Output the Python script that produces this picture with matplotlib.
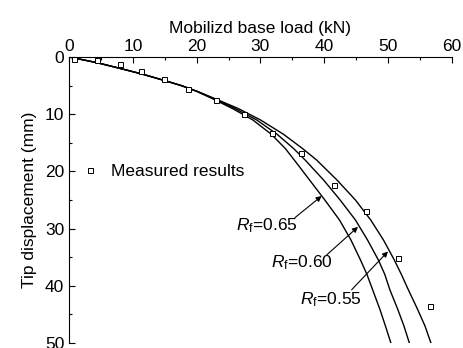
import matplotlib.pyplot as plt

plt.rcParams['font.family'] = ['Liberation Sans', 'DejaVu Sans']
plt.rcParams['mathtext.fontset'] = 'custom'
plt.rcParams['mathtext.rm'] = 'Liberation Sans'
plt.rcParams['mathtext.it'] = 'Liberation Sans:italic'

# measured base load (kN) vs tip displacement (mm)
meas_load = [0.75, 4.4, 8.0, 11.2, 14.8, 18.6, 23.0, 27.35, 31.8, 36.3, 41.6, 46.6, 51.6, 56.6]
meas_disp = [0.3, 0.6, 1.3, 2.4, 3.8, 5.6, 7.5, 10.0, 13.2, 16.8, 22.3, 26.9, 35.2, 43.5]

# computed curves, load at each displacement level
fit_disp = [0, 1, 2, 3, 4, 5, 6, 7.3, 9, 11, 13.5, 16, 18, 21.5, 25, 28.5, 32, 35.5, 38, 40.7, 44, 47, 50.5]
load_rf065 = [0, 4.4, 8.0, 11.5, 14.6, 17.6, 20.0, 22.5, 25.6, 28.8, 31.7, 33.9, 35.3, 37.7, 40.1, 42.4, 44.2, 45.7, 46.7, 47.6, 48.7, 49.6, 50.6]
load_rf060 = [0, 4.4, 8.0, 11.5, 14.6, 17.6, 20.0, 22.7, 26.0, 29.4, 32.6, 35.2, 37.0, 39.9, 42.5, 44.9, 46.8, 48.5, 49.5, 50.3, 51.5, 52.5, 53.5]
load_rf055 = [0, 4.4, 8.0, 11.5, 14.6, 17.6, 20.1, 22.9, 26.5, 30.0, 33.6, 36.6, 38.8, 42.0, 44.9, 47.3, 49.3, 51.0, 52.1, 53.2, 54.6, 55.8, 56.9]

fig = plt.figure(figsize=(4.64, 3.48), dpi=100)
ax = fig.add_axes([0.1491, 0.0144, 0.8244, 0.8218])

for q in (load_rf065, load_rf060, load_rf055):
    ax.plot(q, fit_disp, color='black', lw=1.0)
ax.plot(meas_load, meas_disp, linestyle='none', marker='s', ms=3.6, mfc='white',
        mec='black', mew=0.7, label='Measured results')

ax.set_xlim(0, 60)
ax.set_ylim(50, 0)
ax.xaxis.tick_top()
ax.xaxis.set_label_position('top')
ax.set_xticks(range(0, 61, 10))
ax.set_xticks(range(5, 60, 10), minor=True)
ax.set_yticks(range(0, 51, 10))
ax.set_yticks(range(5, 50, 10), minor=True)
ax.tick_params(which='both', direction='in', labelsize=12.5, width=0.8)
ax.tick_params(which='major', length=4)
ax.tick_params(which='minor', length=2.5)
ax.tick_params(axis='x', pad=2.5)
ax.spines['right'].set_visible(False)
ax.spines['bottom'].set_visible(False)
for s in ('left', 'top'):
    ax.spines[s].set_linewidth(0.8)

ax.set_xlabel('Mobilizd base load (kN)', fontsize=12.5, labelpad=4)
ax.set_ylabel('Tip displacement (mm)', fontsize=12.5, labelpad=6)

ax.legend(loc='center left', bbox_to_anchor=(0.031, 0.601), frameon=False,
          fontsize=12.5, handlelength=1.0, handletextpad=0.7, borderpad=0,
          borderaxespad=0)

arrow = dict(arrowstyle='-|>', color='black', lw=0.8, mutation_scale=8,
             shrinkA=0, shrinkB=0)
labels = [
    (r'$R_\mathrm{f}$=0.65', (26.2, 29.5), (35.4, 28.1), (39.6, 24.3)),
    (r'$R_\mathrm{f}$=0.60', (31.7, 36.0), (40.4, 34.6), (45.3, 29.7)),
    (r'$R_\mathrm{f}$=0.55', (36.2, 42.5), (44.3, 40.7), (50.0, 34.0)),
]
for txt, pos, tail, tip in labels:
    ax.text(pos[0], pos[1], txt, fontsize=12.5, ha='left', va='center')
    ax.annotate('', xy=tip, xytext=tail, arrowprops=arrow)

fig.savefig('out.png', dpi=100)
